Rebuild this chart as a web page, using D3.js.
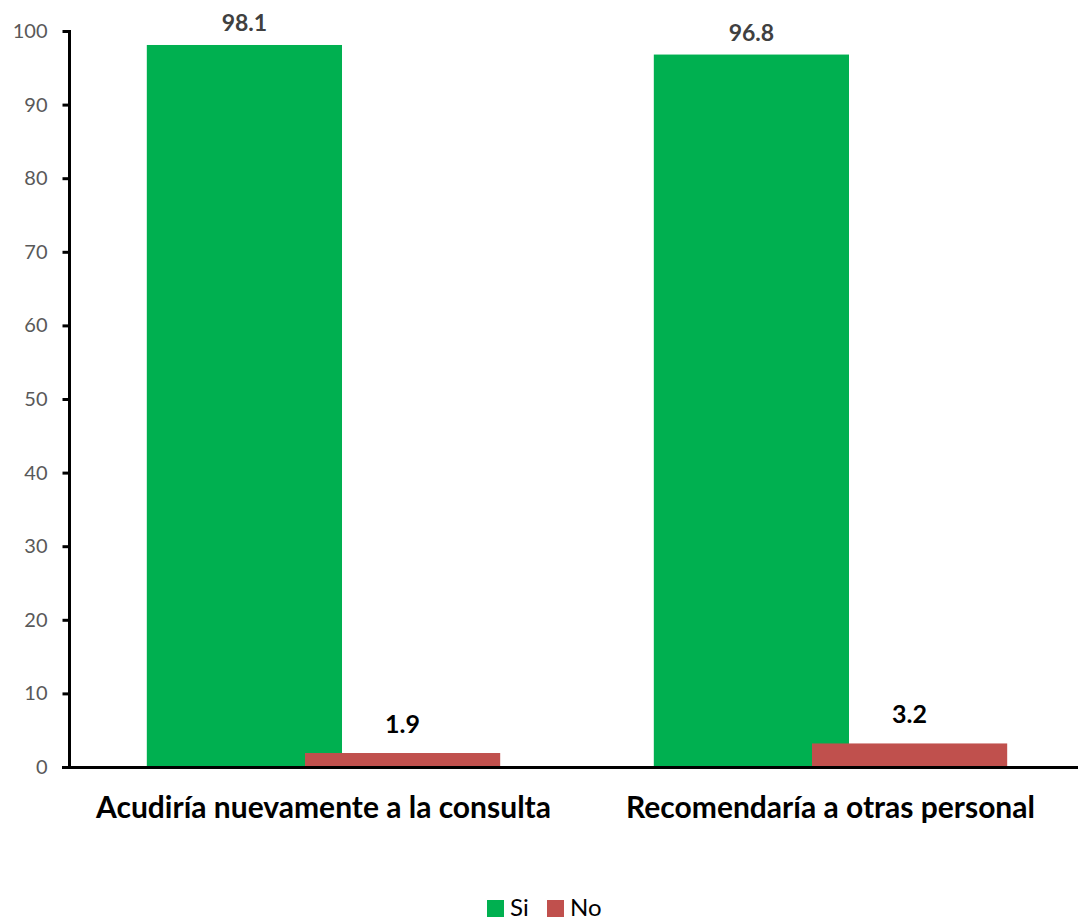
<!DOCTYPE html>
<html>
<head>
<meta charset="utf-8">
<script src="https://cdn.jsdelivr.net/npm/d3@7"></script>
<style>
  html, body { margin: 0; padding: 0; background: #fff; }
  svg { display: block; }
</style>
</head>
<body>
<svg id="chart" width="1078" height="921"></svg>
<script>
// Chart data
const categories = ["Acudiría nuevamente a la consulta", "Recomendaría a otras personal"];
const seriesNames = ["Si", "No"];
const siValues = [98.1, 96.8];
const noValues = [1.9, 3.2];
const yTicks = [0, 10, 20, 30, 40, 50, 60, 70, 80, 90, 100];
const seriesColors = ["#00B050", "#C0504D"];

const svg = d3.select("#chart");
const fontFam = "Lato, 'Open Sans', sans-serif";

const x = d3.scaleBand().domain(categories).range([70, 1084]).paddingInner(0).paddingOuter(0);
const y = d3.scaleLinear().domain([0, 100]).range([767, 31]);

// bar geometry within each category band (bars overlap)
const barW = x.bandwidth() * 0.385;
const offset = x.bandwidth() * 0.312;
const groupW = barW + offset;

const series = [siValues, noValues];

// bars
series.forEach((vals, si) => {
  svg.append("g").selectAll("rect")
    .data(categories.map((c, i) => ({ c, v: vals[i] })))
    .join("rect")
    .attr("x", d => x(d.c) + x.bandwidth() / 2 - groupW / 2 + si * offset)
    .attr("y", d => y(d.v))
    .attr("width", barW)
    .attr("height", d => y(0) - y(d.v))
    .attr("fill", seriesColors[si]);
});

// value labels
const labelStyle = [
  { color: "#404040", size: 23, gap: 14 },
  { color: "#000000", size: 25, gap: 20 }
];
series.forEach((vals, si) => {
  svg.append("g").selectAll("text")
    .data(categories.map((c, i) => ({ c, v: vals[i] })))
    .join("text")
    .attr("x", d => x(d.c) + x.bandwidth() / 2 - groupW / 2 + si * offset + barW / 2)
    .attr("y", d => y(d.v) - labelStyle[si].gap)
    .attr("text-anchor", "middle")
    .attr("font-family", fontFam)
    .attr("font-weight", "bold")
    .attr("font-size", labelStyle[si].size)
    .attr("fill", labelStyle[si].color)
    .text(d => d.v.toFixed(1));
});

// y axis
const yAxis = svg.append("g")
  .attr("transform", "translate(69.5,0)")
  .call(d3.axisLeft(y).tickValues(yTicks).tickSize(7).tickPadding(15));
yAxis.select(".domain").attr("stroke", "#000").attr("stroke-width", 3).attr("d", "M0," + (y(100) - 1) + "V" + (y(0) + 1.5));
yAxis.selectAll(".tick line").attr("stroke", "#000").attr("stroke-width", 3);
yAxis.selectAll(".tick text")
  .attr("font-family", fontFam)
  .attr("font-size", 20)
  .attr("fill", "#595959");

// x axis baseline
const xAxis = svg.append("g")
  .attr("transform", "translate(0," + (y(0) + 0.5) + ")")
  .call(d3.axisBottom(x).tickSize(0).tickPadding(29));
xAxis.select(".domain").attr("stroke", "#000").attr("stroke-width", 3).attr("d", "M62,0H1078");
xAxis.selectAll(".tick text")
  .attr("font-family", fontFam)
  .attr("font-weight", "bold")
  .attr("font-size", 30)
  .attr("fill", "#000");

// legend
const legend = svg.append("g").attr("transform", "translate(487,900)");
const legendItems = [{ name: seriesNames[0], dx: 0 }, { name: seriesNames[1], dx: 60 }];
legendItems.forEach((it, i) => {
  legend.append("rect").attr("x", it.dx).attr("y", 0).attr("width", 17).attr("height", 17).attr("fill", seriesColors[i]);
  legend.append("text").attr("x", it.dx + 23).attr("y", 16)
    .attr("font-family", fontFam).attr("font-size", 24).attr("fill", "#000")
    .text(it.name);
});
</script>
</body>
</html>
